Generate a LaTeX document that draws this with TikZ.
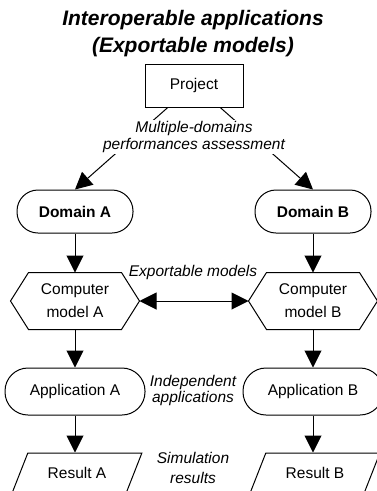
\documentclass[tikz,border=0pt]{standalone}
\usepackage{fontspec}
\setmainfont{Liberation Sans}
\usetikzlibrary{arrows.meta,shapes.geometric}

\begin{document}
\begin{tikzpicture}[x=1pt, y=-1pt, line width=1pt, >={Triangle[length=17pt,width=17pt]},
    every node/.style = {font=\fontsize{15.5}{17}\selectfont},
    title/.style = {anchor=base, font=\bfseries\itshape\fontsize{21}{27}\selectfont},
    main/.style = {draw, rectangle, minimum width=98pt, minimum height=43pt},
    pill/.style = {draw, rectangle, rounded corners=21pt, minimum width=#1, minimum height=43pt},
    hexa/.style = {minimum width=128pt, minimum height=56pt, align=center, font=\fontsize{15.5}{23}\selectfont},
    slant/.style = {draw, trapezium, trapezium left angle=60, trapezium right angle=120,
                    trapezium stretches=true, minimum width=130pt, minimum height=40pt},
    note/.style = {align=center, font=\itshape\fontsize{15.5}{17}\selectfont}]
        \clip (0,0) rectangle (377,491);
        \node[title] (title1) at (193,25) {Interoperable applications};
        \node[title] (title2) at (193,52) {(Exportable models)};
        \node[main] (project) at (194,85.5) {Project};
        \node[pill=116pt, font=\bfseries\fontsize{15.5}{17}\selectfont] (domA) at (75,211.5) {Domain A};
        \node[pill=116pt, font=\bfseries\fontsize{15.5}{17}\selectfont] (domB) at (313,211.5) {Domain B};
        \node[hexa] (cmA) at (75,301) {Computer\\model A};
        \node[hexa] (cmB) at (313,301) {Computer\\model B};
        \foreach \n in {cmA,cmB}
            \draw (\n.west) -- ([xshift=18pt]\n.north west) -- ([xshift=-18pt]\n.north east)
                -- (\n.east) -- ([xshift=-18pt]\n.south east) -- ([xshift=18pt]\n.south west) -- cycle;
        \node[pill=140pt, minimum height=47pt, rounded corners=23pt] (appA) at (75,391.5) {Application A};
        \node[pill=140pt, minimum height=47pt, rounded corners=23pt] (appB) at (313,391.5) {Application B};
        \node[slant] (resA) at (77,473) {Result A};
        \node[slant] (resB) at (315,473) {Result B};
        \draw[->] (project.-140) -- (domA.north);
        \draw[->] (project.-40) -- (domB.north);
        \node[note, fill=white, inner sep=1pt] (assess) at (194,137) {Multiple-domains\\performances assessment};
        \draw[<->] (cmA.east) -- (cmB.west);
        \foreach \c in {A,B} {
            \draw[->] (dom\c.south) -- (cm\c.north);
            \draw[->] (cm\c.south) -- (app\c.north);
            \draw[->] (app\c.south) -- (app\c.south |- res\c.north);
        }
        \node[note, anchor=base] (export) at (193,276) {Exportable models};
        \node[note, font=\itshape\fontsize{15.5}{16}\selectfont] (indep) at (193,390) {Independent\\applications};
        \node[note, font=\itshape\fontsize{15.5}{20}\selectfont] (simul) at (193,467.5) {Simulation\\results};
    \end{tikzpicture}
\end{document}
